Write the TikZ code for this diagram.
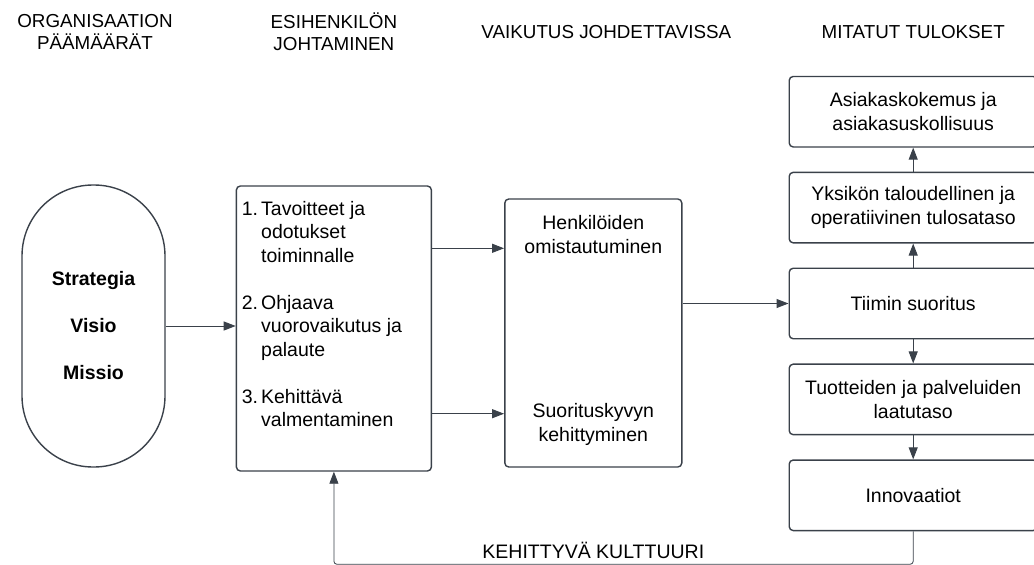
\documentclass[tikz,border=0pt]{standalone}
\usepackage{fontspec}
\setmainfont{Liberation Sans}
\usepackage{tikz}
\usetikzlibrary{positioning,arrows.meta,calc}
\definecolor{lnc}{HTML}{3A414A}

\begin{document}
\begin{tikzpicture}[x=1pt, y=1pt, >={Triangle[length=12pt,width=9pt]},
  font=\fontsize{19.5}{23.5}\selectfont,
  box/.style={draw=lnc, line width=1.4pt, rounded corners=4pt, align=center, inner sep=3pt},
  res/.style={box, minimum width=248pt, minimum height=70.5pt},
  head/.style={align=center, font=\fontsize{18.8}{22}\selectfont},
  txt/.style={align=center, inner sep=0pt},
  arr/.style={->, draw=lnc, line width=1pt}]
\useasboundingbox (0,0) rectangle (1034,-565);
\node[box, rounded corners=71pt, minimum width=143pt, minimum height=282pt,
  font=\fontsize{19.5}{23.5}\selectfont\bfseries] (pill) at (93.5,-326) {Strategia\\[23.5pt]Visio\\[23.5pt]Missio};
\node[box, minimum width=195pt, minimum height=285pt, right=70pt of pill, yshift=-2.5pt] (lead) {};
\node[anchor=base west, inner sep=0pt] (leadtxt) at ([xshift=6pt,yshift=-30pt]lead.north west)
  {\begin{tabular}[t]{@{}l@{\hspace{3pt}}l@{}}
   1. & Tavoitteet ja\\ & odotukset\\ & toiminnalle\\[23.5pt]
   2. & Ohjaava\\ & vuorovaikutus ja\\ & palaute\\[23.5pt]
   3. & Kehittävä\\ & valmentaminen
   \end{tabular}};
\node[box, minimum width=177pt, minimum height=268pt, right=72pt of lead, yshift=-4.5pt] (mid) {};
\node[txt] (own) at ([yshift=-36pt]mid.north) {Henkilöiden\\omistautuminen};
\node[txt] (skill) at ([yshift=43pt]mid.south) {Suorituskyvyn\\kehittyminen};
\node[res, right=106pt of mid, yshift=29.5pt] (team) {Tiimin suoritus};
\node[res, above=24pt of team] (unit) {Yksikön taloudellinen ja\\operatiivinen tulosataso};
\node[res, above=24pt of unit] (cust) {Asiakaskokemus ja\\asiakasuskollisuus};
\node[res, below=24pt of team] (qual) {Tuotteiden ja palveluiden\\laatutaso};
\node[res, below=24pt of qual] (inno) {Innovaatiot};
% column headings
\coordinate (top) at (0,-32);
\node[head, xshift=1.5pt] (h1) at (top -| pill) {ORGANISAATION\\PÄÄMÄÄRÄT};
\node[head] (h2) at (top -| lead) {ESIHENKILÖN\\JOHTAMINEN};
\node[head, xshift=13pt] (h3) at (top -| mid) {VAIKUTUS JOHDETTAVISSA};
\node[head] (h4) at (top -| team) {MITATUT TULOKSET};
% connectors
\coordinate (m1) at ([yshift=-50pt]mid.north west);
\coordinate (m2) at ([yshift=54pt]mid.south west);
\draw[arr] (pill.east) -- (pill.east -| lead.west);
\draw[arr] (m1 -| lead.east) -- (m1);
\draw[arr] (m2 -| lead.east) -- (m2);
\draw[arr] (team.west -| mid.east) -- (team.west);
\draw[arr] (team) -- (unit);
\draw[arr] (unit) -- (cust);
\draw[arr] (team) -- (qual);
\draw[arr] (qual) -- (inno);
% feedback loop
\coordinate (fb) at ([yshift=-33pt]inno.south);
\draw[arr, rounded corners=3pt, line width=0.8pt] (inno.south) -- (fb) -| (lead.south);
\coordinate (fbm) at (fb -| mid.south);
\node[above=5pt of fbm, inner sep=0pt] (cult) {KEHITTYVÄ KULTTUURI};
\end{tikzpicture}
\end{document}
